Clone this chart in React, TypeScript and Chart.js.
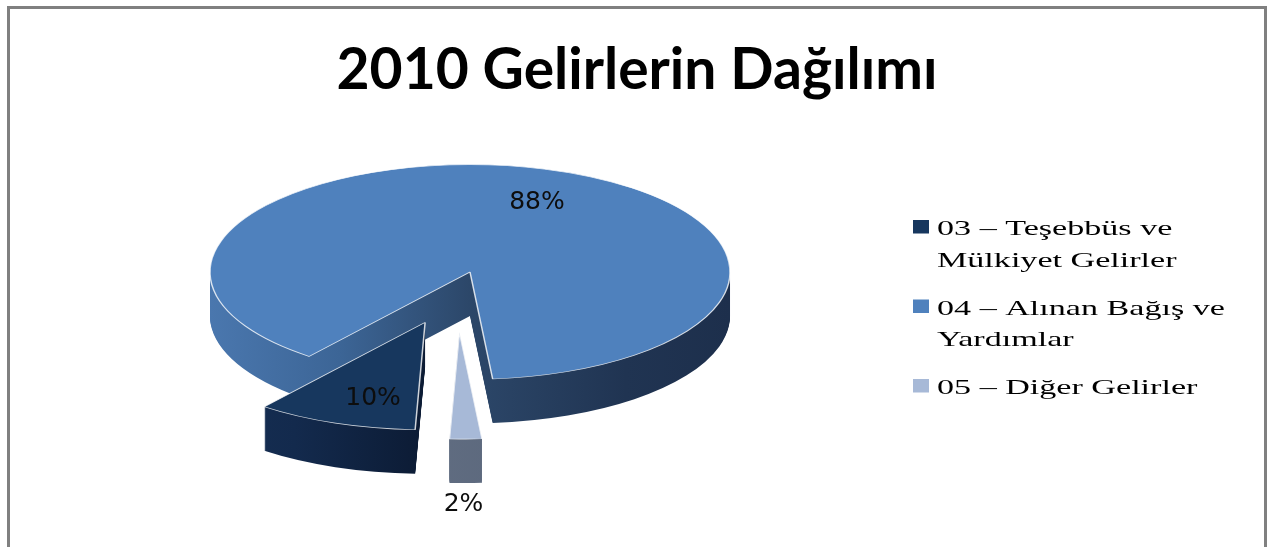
import React, { useEffect, useRef } from "react";
import { Chart, registerables } from "chart.js";

Chart.register(...registerables);

// ---- data ----
const TITLE = "2010 Gelirlerin Dağılımı";
const categories = [
  "03 – Teşebbüs ve Mülkiyet Gelirler",
  "04 – Alınan Bağış ve Yardımlar",
  "05 – Diğer Gelirler",
];
const shares = [10, 88, 2];
const shareLabels = ["10%", "88%", "2%"];

// ---- styles ----
const topColors = ["#17375E", "#4F81BD", "#A7B9D7"];
const sideStops: [number, string][][] = [
  [[0, "#173157"], [0.25, "#132A4D"], [0.5, "#0C1B34"], [1, "#0C1B34"]],
  [[0, "#4A77AE"], [0.25, "#3C6596"], [0.5, "#2C4769"], [0.8, "#203452"], [1, "#1D2F4C"]],
  [[0, "#6A778C"], [1, "#535F73"]],
];
const SQUASH = 0.413;
const DEPTH = 44;
const EXPLODE = [130, 0, 145];
const EXPLODE_DIR_SHIFT = [0, 0, 5.6];
const DRAW_ORDER = [1, 2, 0];
const LABEL_FRAC = [0.74, 0.7, 1];
const LABEL_SHIFT = [-4.5, 5, 0.5];
const LEGEND_SX = 1.55;

function sliceShift(arc: any, i: number) {
  const mid = (arc.startAngle + arc.endAngle) / 2;
  const dir = mid + (EXPLODE_DIR_SHIFT[i] * Math.PI) / 180;
  return {
    mid,
    dx: Math.cos(dir) * EXPLODE[i],
    dy: Math.sin(dir) * EXPLODE[i] * SQUASH,
  };
}

const pie3d = {
  id: "pie3d",
  beforeDatasetsDraw(chart: any) {
    const ctx: CanvasRenderingContext2D = chart.ctx;
    const arcs = chart.getDatasetMeta(0).data;
    if (!arcs.length) return false;
    const cx = arcs[0].x;
    const cy = arcs[0].y;
    for (const i of DRAW_ORDER) {
      const arc = arcs[i];
      const saved = arc.options;
      const { dx, dy } = sliceShift(arc, i);
      const r = arc.outerRadius;
      const grad = ctx.createLinearGradient(cx - r, 0, cx + r, 0);
      for (const [t, c] of sideStops[i]) grad.addColorStop(t, c);
      arc.options = { ...saved, backgroundColor: grad, borderColor: grad, borderWidth: 0 };
      for (let k = DEPTH; k >= 1; k--) {
        ctx.save();
        ctx.translate(cx + dx, cy + dy + k);
        ctx.scale(1, SQUASH);
        ctx.translate(-cx, -cy);
        arc.draw(ctx);
        ctx.restore();
      }
      arc.options = saved;
      ctx.save();
      ctx.translate(cx + dx, cy + dy);
      ctx.scale(1, SQUASH);
      ctx.translate(-cx, -cy);
      arc.draw(ctx);
      ctx.restore();
    }
    return false;
  },
  afterDraw(chart: any) {
    const ctx: CanvasRenderingContext2D = chart.ctx;
    const arcs = chart.getDatasetMeta(0).data;
    const cx = arcs[0].x;
    const cy = arcs[0].y;

    // title
    ctx.save();
    ctx.fillStyle = "#000";
    ctx.font = 'bold 57px Lato, "Noto Sans", sans-serif';
    ctx.textAlign = "center";
    ctx.textBaseline = "alphabetic";
    ctx.fillText(TITLE, 637, 89);
    ctx.restore();

    // value labels
    ctx.save();
    ctx.fillStyle = "#0d0d0d";
    ctx.font = '25px "DejaVu Sans", sans-serif';
    ctx.textAlign = "center";
    ctx.textBaseline = "middle";
    arcs.forEach((arc: any, i: number) => {
      const { mid, dx, dy } = sliceShift(arc, i);
      const a = mid + (LABEL_SHIFT[i] * Math.PI) / 180;
      const rr = arc.outerRadius * LABEL_FRAC[i];
      const x = cx + dx + Math.cos(a) * rr;
      let y = cy + dy + Math.sin(a) * rr * SQUASH;
      if (LABEL_FRAC[i] >= 1) y += DEPTH + 21;
      ctx.fillText(shareLabels[i], x, y);
    });
    ctx.restore();

    // legend
    ctx.save();
    ctx.font = '22px "Liberation Serif", "Times New Roman", serif';
    ctx.textAlign = "left";
    ctx.textBaseline = "alphabetic";
    const maxW = 300 / LEGEND_SX;
    let y = 235;
    categories.forEach((label, i) => {
      const words = label.split(" ");
      const lines: string[] = [];
      let cur = "";
      for (const w of words) {
        const cand = cur ? cur + " " + w : w;
        if (cur && ctx.measureText(cand).width > maxW) {
          lines.push(cur);
          cur = w;
        } else cur = cand;
      }
      if (cur) lines.push(cur);
      ctx.fillStyle = topColors[i];
      ctx.fillRect(913, y - 15, 16, 13.5);
      ctx.fillStyle = "#000";
      lines.forEach((ln, j) => {
        ctx.save();
        ctx.translate(937, y);
        ctx.scale(LEGEND_SX, 1);
        ctx.fillText(ln, 0, 0);
        ctx.restore();
        if (j < lines.length - 1) y += 31.5;
      });
      y += 48;
    });
    ctx.restore();
  },
};

export default function App() {
  const ref = useRef<HTMLCanvasElement | null>(null);
  useEffect(() => {
    if (!ref.current) return;
    const chart = new Chart(ref.current, {
      type: "pie",
      data: {
        labels: categories,
        datasets: [
          {
            data: shares,
            backgroundColor: topColors,
            borderColor: "rgba(255,255,255,0.8)",
            borderWidth: 1.5,
            rotation: 182.2,
            radius: 260,
          } as any,
        ],
      },
      options: {
        responsive: false,
        animation: false,
        events: [],
        rotation: 182.2,
        radius: 260,
        layout: { padding: { left: 10, right: 337, top: 100, bottom: 103 } },
        plugins: {
          legend: { display: false },
          title: { display: false },
          tooltip: { enabled: false },
        },
      } as any,
      plugins: [pie3d as any],
    });
    return () => chart.destroy();
  }, []);
  return (
    <>
      <div
        style={{
          position: "fixed",
          left: 7,
          top: 6,
          width: 1260,
          height: 541,
          boxSizing: "border-box",
          border: "3px solid #808080",
          borderBottom: "none",
        }}
      />
      <canvas
        ref={ref}
        width={1267}
        height={547}
        style={{ position: "fixed", left: 0, top: 0, width: 1267, height: 547, display: "block" }}
      />
    </>
  );
}
